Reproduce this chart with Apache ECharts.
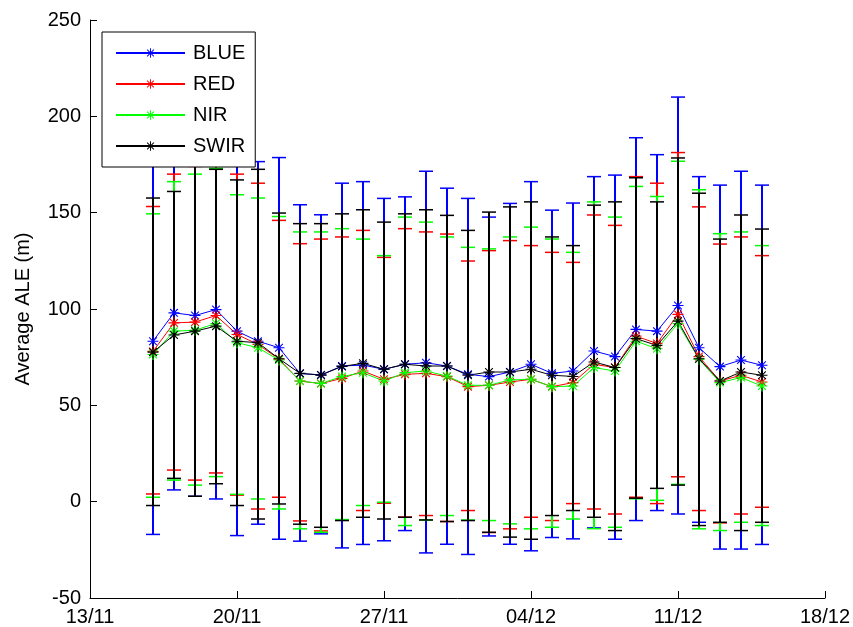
<!DOCTYPE html>
<html>
<head>
<meta charset="utf-8">
<script src="https://cdn.jsdelivr.net/npm/echarts@6/dist/echarts.min.js"></script>
<style>
  html, body { margin: 0; padding: 0; background: #fff; }
  #chart { width: 853px; height: 627px; }
</style>
</head>
<body>
<div id="chart"></div>
<script>
// dates of the observations (dd/mm)
var dates = ['16/11','17/11','18/11','19/11','20/11','21/11','22/11','23/11','24/11','25/11',
             '26/11','27/11','28/11','29/11','30/11','01/12','02/12','03/12','04/12','05/12',
             '06/12','07/12','08/12','09/12','10/12','11/12','12/12','13/12','14/12','15/12'];
var tickLabels = ['13/11','20/11','27/11','04/12','11/12','18/12'];

// mean values
var blueMean = [83.3, 98, 96.6, 99.7, 88.5, 83.3, 79.9, 66.5, 65.8, 70.4, 70.9, 68.7, 71.3, 72.1, 70.4,
                66.1, 64.9, 67.3, 71.3, 66.6, 67.8, 78.2, 75.3, 89.4, 88.5, 101.8, 79.9, 70.1, 73.5, 70.8];
var redMean  = [78, 92.8, 93.2, 96.6, 86.8, 81.6, 74, 62.6, 61.3, 64, 67.8, 63.5, 66.1, 66.6, 64.9,
                59.7, 60.4, 62.1, 63.5, 59.7, 61.8, 71.3, 69.6, 85.9, 82.1, 97.2, 75.3, 62.6, 65.6, 62.1];
var nirMean  = [76.4, 88.5, 89, 92.5, 82.5, 79.9, 73.5, 62.6, 61.3, 65, 66.9, 62.6, 67, 67.8, 65.2,
                60.4, 60.4, 63.2, 63.5, 59.7, 60, 69.6, 67.8, 83.3, 79.4, 92.5, 74, 61.8, 64.4, 60];
var swirMean = [77.6, 86.5, 88.5, 91.1, 83.3, 82.5, 74.2, 66.6, 65.7, 70.2, 71.8, 68.7, 71.3, 70.4, 70.4,
                65.6, 67.3, 67.3, 68.7, 65.6, 65, 72.5, 69.6, 84.6, 81.1, 93.7, 74.2, 62.6, 67.3, 65.6];

// upper ends of the error bars
var blueHi = [180, 183, 181, 184, 186, 176.5, 178.6, 154.1, 148.9, 165.3, 166.1, 157.4, 158.2, 171.5, 162.7,
              157.4, 147.7, 154.8, 166.1, 151.3, 155, 168.7, 169.5, 188.9, 180.1, 210, 168.7, 164.3, 171.5, 164.3];
var redHi  = [153.2, 170, 174, 176, 170, 165.3, 146, 133.9, 136.3, 137.4, 140.8, 126.8, 141.7, 140, 138.9,
              124.9, 130.3, 135.5, 132.9, 129.4, 124.2, 148.8, 143.4, 168.7, 165.3, 181.2, 153, 133.7, 137.4, 127.7];
var nirHi  = [149.4, 166.1, 170, 173, 159.3, 157.6, 148, 140, 140, 141.7, 136.3, 127.7, 147.7, 145.1, 137.4,
              132, 131.2, 137.4, 142.5, 136.3, 129.4, 155.6, 147.7, 163.6, 158.4, 176.7, 161.9, 139.1, 140, 132.9];
var swirHi = [157.6, 161, 176, 172.5, 167, 172.5, 149.8, 144.3, 144.3, 149.4, 151.5, 145.1, 149.4, 151.5, 148.6,
              140.8, 150.3, 153, 155.6, 137.4, 132.9, 153.9, 155.6, 168.1, 155.6, 178.4, 160.1, 136.3, 148.8, 141.5];

// lower ends of the error bars
var blueLo = [-17, 6.1, 2.8, 1.4, -17.6, -11.7, -19.5, -20.5, -16.7, -24, -22.2, -20.3, -15, -26.6, -22.1,
              -27.4, -17.8, -22.1, -25.5, -18.6, -19.3, -13.6, -19.5, -9.8, -4.6, -6.4, -10.7, -24.6, -24.6, -22.2];
var redLo  = [4, 16.4, 11.2, 14.9, 3.4, -3.8, 2.3, -10, -15.2, -9.5, -4.6, -0.8, -8, -7.2, -10.3,
              -4.6, -16, -14.1, -8.1, -9.8, -1, -3.8, -6.4, 2.3, -1, 12.9, -4.6, -11, -6.4, -2.9];
var nirLo  = [2.3, 11.2, 8.6, 13, 3.8, 1.4, -3.8, -14.1, -15.9, -9.3, -2, -0.3, -12.4, -9.5, -7.2,
              -9.5, -9.8, -11.5, -14.1, -13.3, -9, -14, -13.3, 1.5, 0.7, 9, -14.1, -15, -10.7, -12.4];
var swirLo = [-2, 12.1, 2.8, 9.3, -2, -9, -1.2, -11.7, -13.3, -9.8, -8.1, -9, -8.1, -9.5, -10.3,
              -9.8, -15.9, -18.4, -19.5, -7.2, -4.6, -8.1, -15, 1.8, 6.9, 8.6, -12.4, -10.7, -15, -10.7];

// days counted from 13/11
function dayOf(s) {
    var p = s.split('/');
    var d = parseInt(p[0], 10), m = parseInt(p[1], 10);
    return m === 11 ? d - 13 : d + 30 - 13;
}

// asterisk marker like matlab '*'
var star = 'path://M4.5 0L5.5 0L5.5 10L4.5 10Z M0 4.5L10 4.5L10 5.5L0 5.5Z ' +
           'M1.85 1.15L8.85 8.15L8.15 8.85L1.15 1.85Z M8.15 1.15L8.85 1.85L1.85 8.85L1.15 8.15Z';

var bands = [
    {name: 'BLUE', color: '#0000ff', mean: blueMean, lo: blueLo, hi: blueHi},
    {name: 'RED',  color: '#ff0000', mean: redMean,  lo: redLo,  hi: redHi},
    {name: 'NIR',  color: '#00ff00', mean: nirMean,  lo: nirLo,  hi: nirHi},
    {name: 'SWIR', color: '#000000', mean: swirMean, lo: swirLo, hi: swirHi}
];

// vertical bar with caps, snapped to whole pixels so the black one covers the others
function errorBar(color) {
    return function (params, api) {
        var x = api.value(0);
        var top = api.coord([x, api.value(2)]);
        var bot = api.coord([x, api.value(1)]);
        var cx = Math.round(top[0]);
        var w = 7;
        var st = {stroke: color, lineWidth: 2};
        var cap = {stroke: color, lineWidth: 1.5};
        return {
            type: 'group',
            children: [
                {type: 'line', shape: {x1: cx, y1: top[1], x2: cx, y2: bot[1]}, style: st},
                {type: 'line', shape: {x1: cx - w, y1: top[1], x2: cx + w, y2: top[1]}, style: cap},
                {type: 'line', shape: {x1: cx - w, y1: bot[1], x2: cx + w, y2: bot[1]}, style: cap}
            ]
        };
    };
}

var series = [];
bands.forEach(function (b) {
    series.push({
        name: b.name + ' err',
        type: 'custom',
        renderItem: errorBar(b.color),
        encode: {x: 0, y: [1, 2]},
        data: dates.map(function (d, i) { return [dayOf(d), b.lo[i], b.hi[i]]; })
    });
    series.push({
        name: b.name,
        type: 'line',
        color: b.color,
        symbol: star,
        symbolSize: 11,
        lineStyle: {width: 1, color: b.color},
        itemStyle: {color: b.color},
        data: dates.map(function (d, i) { return [dayOf(d), b.mean[i]]; })
    });
});

var chart = echarts.init(document.getElementById('chart'));
var option = {
    animation: false,
    backgroundColor: '#fff',
    textStyle: {fontFamily: 'Liberation Sans, Arial, sans-serif'},
    grid: {left: 90, right: 27, top: 20, bottom: 28},
    legend: {
        data: ['BLUE', 'RED', 'NIR', 'SWIR'],
        orient: 'vertical',
        left: 102,
        top: 32,
        padding: [11, 10, 11, 13],
        itemGap: 11,
        itemWidth: 69,
        itemHeight: 12,
        backgroundColor: '#fff',
        borderColor: '#000',
        borderWidth: 1,
        selectedMode: false,
        textStyle: {fontSize: 20, color: '#000', padding: [0, 0, 0, 3]}
    },
    xAxis: {
        type: 'value',
        min: 0,
        max: 35,
        interval: 7,
        splitLine: {show: false},
        axisLine: {onZero: false, lineStyle: {color: '#000', width: 1}},
        axisTick: {inside: true, length: 7, lineStyle: {color: '#000'}},
        axisLabel: {
            fontSize: 20, color: '#000', margin: 9,
            formatter: function (v) { return tickLabels[Math.round(v / 7)]; }
        }
    },
    yAxis: {
        type: 'value',
        min: -50,
        max: 250,
        interval: 50,
        name: 'Average ALE (m)',
        nameLocation: 'middle',
        nameGap: 57,
        nameTextStyle: {fontSize: 20, color: '#000'},
        splitLine: {show: false},
        axisLine: {show: true, onZero: false, lineStyle: {color: '#000', width: 1}},
        axisTick: {show: true, inside: true, length: 7, lineStyle: {color: '#000'}},
        axisLabel: {fontSize: 20, color: '#000', margin: 9}
    },
    series: series
};
chart.setOption(option);
</script>
</body>
</html>
